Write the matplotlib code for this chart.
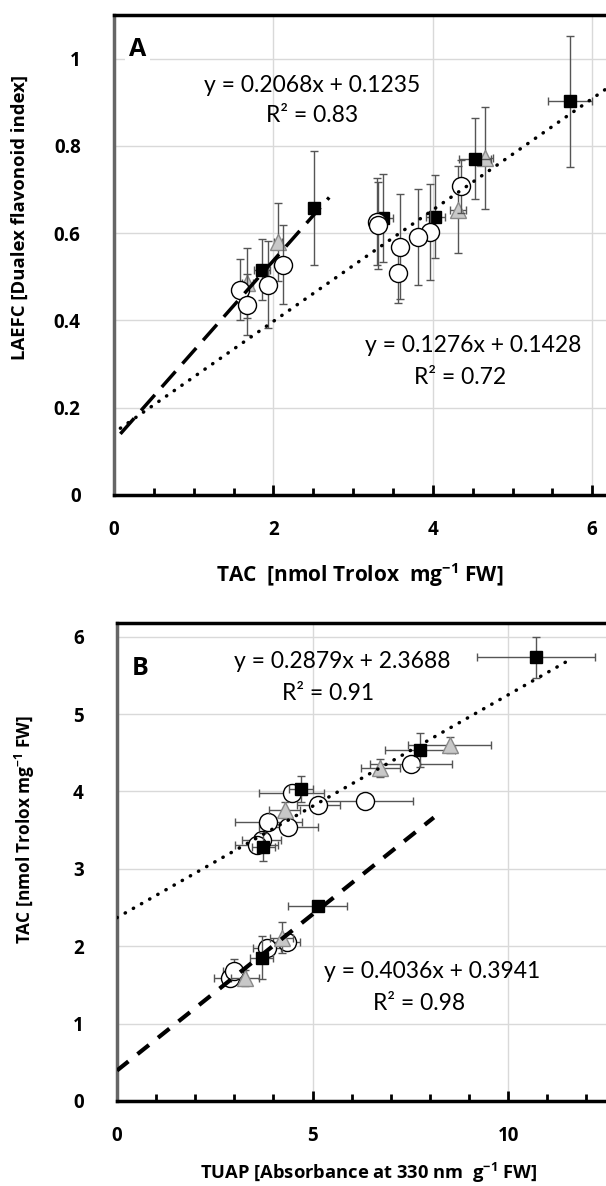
import numpy as np
import matplotlib.pyplot as plt
from matplotlib.ticker import MultipleLocator

plt.rcParams['font.family'] = ['Open Sans', 'DejaVu Sans']
plt.rcParams['font.weight'] = 'bold'
plt.rcParams['mathtext.default'] = 'regular'

# panel A: TAC vs LAEFC
a_sq_x = [5.72, 4.53, 4.03, 3.38, 2.51, 1.86]
a_sq_y = [0.902, 0.771, 0.638, 0.635, 0.658, 0.516]
a_sq_xe = [0.28, 0.20, 0.12, 0.12, 0.05, 0.10]
a_sq_ye = [0.15, 0.092, 0.095, 0.10, 0.13, 0.07]

a_tri_x = [4.65, 4.32, 2.06, 1.67]
a_tri_y = [0.772, 0.654, 0.580, 0.486]
a_tri_xe = [0.10, 0.10, 0.05, 0.07]
a_tri_ye = [0.117, 0.10, 0.09, 0.08]

a_cir_x = [4.36, 3.30, 3.31, 3.97, 3.81, 3.59, 3.56, 2.12, 1.93, 1.58, 1.67]
a_cir_y = [0.707, 0.626, 0.618, 0.603, 0.592, 0.569, 0.509, 0.528, 0.482, 0.470, 0.436]
a_cir_xe = [0.05, 0.10, 0.10, 0.10, 0.10, 0.05, 0.09, 0.08, 0.08, 0.07, 0.10]
a_cir_ye = [0.06, 0.10, 0.10, 0.11, 0.11, 0.12, 0.07, 0.09, 0.10, 0.07, 0.07]

a_fit1 = (0.2068, 0.1235, 0.08, 2.7)   # slope, intercept, x from, x to
a_fit2 = (0.1276, 0.1428, 0.08, 6.2)

# panel B: TUAP vs TAC
b_sq_x = [10.71, 7.75, 4.70, 3.74, 5.13, 3.70]
b_sq_y = [5.73, 4.53, 4.03, 3.28, 2.52, 1.85]
b_sq_xe = [1.5, 0.9, 0.3, 0.3, 0.75, 0.3]
b_sq_ye = [0.27, 0.22, 0.17, 0.18, 0.07, 0.28]

b_tri_x = [8.50, 6.73, 4.29, 4.21, 3.27]
b_tri_y = [4.60, 4.30, 3.76, 2.11, 1.59]
b_tri_xe = [1.05, 0.5, 0.4, 0.3, 0.35]
b_tri_ye = [0.10, 0.12, 0.10, 0.20, 0.10]

b_cir_x = [7.52, 4.47, 6.34, 5.14, 3.87, 4.38, 3.70, 3.57, 4.34, 3.83, 2.89, 3.00]
b_cir_y = [4.35, 3.98, 3.87, 3.82, 3.61, 3.54, 3.37, 3.31, 2.06, 1.98, 1.59, 1.68]
b_cir_xe = [1.04, 0.83, 1.23, 0.55, 0.85, 0.75, 0.5, 0.55, 0.35, 0.35, 0.4, 0.3]
b_cir_ye = [0.05, 0.10, 0.05, 0.05, 0.05, 0.05, 0.05, 0.05, 0.08, 0.10, 0.10, 0.15]

b_fit1 = (0.2879, 2.3688, 0.0, 11.6)
b_fit2 = (0.4036, 0.3941, 0.0, 8.1)

W, H = 606, 1186
fig = plt.figure(figsize=(W / 100, H / 100), dpi=100)


def px(x, y):
    return x / W, 1 - y / H


def draw_points(ax, sets):
    for xs, ys, xe, ye, mk, ms, fc, ec, z in sets:
        ax.errorbar(xs, ys, xerr=xe, yerr=ye, fmt=mk, ms=ms, mfc=fc, mec=ec,
                    mew=1.0, ecolor='#555555', elinewidth=1.0, capsize=3,
                    capthick=1.0, zorder=z)


def style(ax, xmax, ymax, xmaj, xmin, ymaj):
    ax.set_xlim(0, xmax)
    ax.set_ylim(0, ymax)
    ax.xaxis.set_major_locator(MultipleLocator(xmaj))
    ax.xaxis.set_minor_locator(MultipleLocator(xmin))
    ax.yaxis.set_major_locator(MultipleLocator(ymaj))
    ax.yaxis.set_major_formatter(lambda v, p: f'{v:g}')
    ax.grid(True, color='#d9d9d9', lw=1.0, zorder=0)
    ax.set_axisbelow(True)
    for s in ['top', 'bottom']:
        ax.spines[s].set_linewidth(2.5)
        ax.spines[s].set_color('black')
    ax.spines['left'].set_linewidth(2.5)
    ax.spines['left'].set_color('#666666')
    ax.spines['right'].set_visible(False)
    ax.tick_params(axis='x', which='major', direction='in', length=7, width=2,
                   pad=18, labelsize=13.5)
    ax.tick_params(axis='x', which='minor', direction='in', length=5, width=2)
    ax.tick_params(axis='y', which='both', length=0, pad=24, labelsize=13.5)


def note(x, y, s, size=16.5):
    fig.text(*px(x, y), s, fontsize=size, fontweight='normal',
             family=['Lato', 'DejaVu Sans'], ha='center', va='center')


# ---- panel A ----
axA = fig.add_axes([114 / W, 1 - 495 / H, (W - 114) / W, 480 / H])
draw_points(axA, [
    (a_tri_x, a_tri_y, a_tri_xe, a_tri_ye, '^', 12, '#c8c8c8', '#8a8a8a', 3),
    (a_sq_x, a_sq_y, a_sq_xe, a_sq_ye, 's', 9, 'black', 'black', 4),
    (a_cir_x, a_cir_y, a_cir_xe, a_cir_ye, 'o', 13, 'white', 'black', 5),
])
m, b, x0, x1 = a_fit1
xx = np.array([x0, x1])
axA.plot(xx, m * xx + b, color='black', lw=2.5, ls=(0, (6, 3)), zorder=6)
m, b, x0, x1 = a_fit2
xx = np.array([x0, x1])
axA.plot(xx, m * xx + b, color='black', lw=2.5, ls=(0, (0.1, 2.6)),
         dash_capstyle='round', zorder=6)
style(axA, 492 / 79.7, 1.1, 2, 0.5, 0.2)

axA.text(0.03, 0.955, 'A', transform=axA.transAxes, fontsize=18,
         fontweight='bold', va='top', ha='left',
         bbox=dict(facecolor='white', edgecolor='none', pad=3), zorder=7)

note(312, 85, 'y = 0.2068x + 0.1235')
note(312, 116, 'R² = 0.83')
note(473, 345, 'y = 0.1276x + 0.1428')
note(460, 377, 'R² = 0.72')

fig.text(*px(360, 575), 'TAC  [nmol Trolox  mg$^{-1}$ FW]', fontsize=15,
         fontweight='bold', ha='center', va='center')
fig.text(*px(20, 218), 'LAEFC [Dualex flavonoid index]', fontsize=13.3,
         fontweight='bold', ha='center', va='center', rotation=90)

# ---- panel B ----
axB = fig.add_axes([117 / W, 1 - 1101 / H, (W - 117) / W, 478 / H])
draw_points(axB, [
    (b_cir_x, b_cir_y, b_cir_xe, b_cir_ye, 'o', 13, 'white', 'black', 3),
    (b_tri_x, b_tri_y, b_tri_xe, b_tri_ye, '^', 12, '#c8c8c8', '#8a8a8a', 4),
    (b_sq_x, b_sq_y, b_sq_xe, b_sq_ye, 's', 9, 'black', 'black', 4),
])
m, b, x0, x1 = b_fit1
xx = np.array([x0, x1])
axB.plot(xx, m * xx + b, color='black', lw=2.5, ls=(0, (0.1, 2.6)),
         dash_capstyle='round', zorder=6)
m, b, x0, x1 = b_fit2
xx = np.array([x0, x1])
axB.plot(xx, m * xx + b, color='black', lw=3, ls=(0, (3.5, 2.8)), zorder=6)
style(axB, 12.5, 478 / 77.4, 5, 1, 1)

axB.text(0.03, 0.93, 'B', transform=axB.transAxes, fontsize=18,
         fontweight='bold', va='top', ha='left',
         bbox=dict(facecolor='white', edgecolor='none', pad=3), zorder=7)

note(342, 662, 'y = 0.2879x + 2.3688')
note(328, 693, 'R² = 0.91')
note(432, 972, 'y = 0.4036x + 0.3941')
note(419, 1003, 'R² = 0.98')

fig.text(*px(369, 1173), 'TUAP [Absorbance at 330 nm  g$^{-1}$ FW]', fontsize=13.2,
         fontweight='bold', ha='center', va='center')
fig.text(*px(25, 830), 'TAC [nmol Trolox mg$^{-1}$ FW]', fontsize=12.4,
         fontweight='bold', ha='center', va='center', rotation=90)

fig.savefig('out.png', dpi=100)
